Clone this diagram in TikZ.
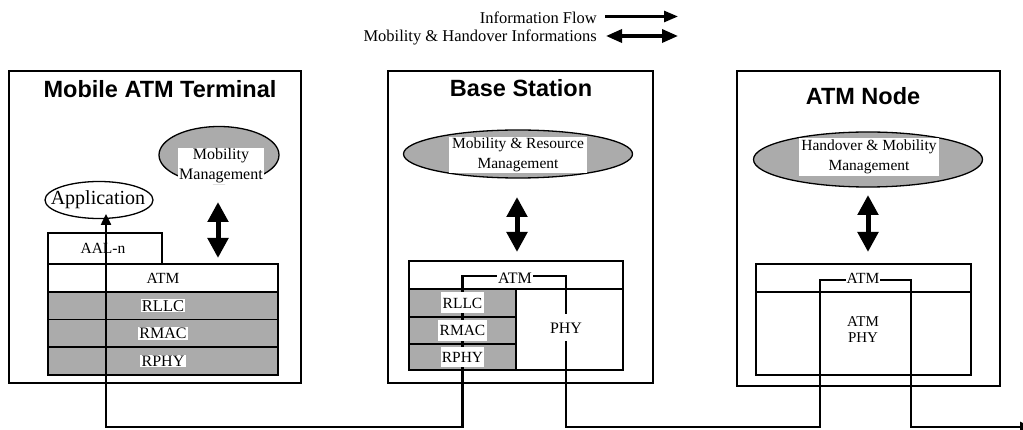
\documentclass[tikz,border=0pt]{standalone}
\usepackage{fontspec}
\setmainfont{Liberation Serif}
\newfontfamily\headfont{Liberation Sans}
\usetikzlibrary{shapes.geometric,arrows.meta}
\definecolor{shade}{gray}{0.67}
\newcommand\fsz[2]{\fontsize{#1}{#2}\selectfont}

\begin{document}
\begin{tikzpicture}[x=1pt,y=-1pt,
  frame/.style={draw, line width=1.4pt, anchor=north west, inner sep=0pt, outer sep=0pt},
  cell/.style={draw, line width=1.2pt, inner sep=0pt, outer sep=0pt},
  shaded/.style={cell, fill=shade},
  title/.style={font=\headfont\bfseries\fsz{23.5}{28}, anchor=base, inner sep=0pt},
  txt/.style={font=\fsz{15.5}{18}, inner sep=1.2pt},
  wtxt/.style={txt, fill=white},
  ctxt/.style={font=\fsz{15.5}{18}, inner sep=0pt},
  patch/.style={fill=white, inner sep=0pt},
  cloud/.style={draw, ellipse, line width=1.3pt, fill=shade, inner sep=0pt},
  flow/.style={line width=2.4pt, {Triangle[width=10pt,length=11pt]}-{Triangle[width=10pt,length=11pt]}},
  ctrl/.style={line width=5pt, {Triangle[width=20pt,length=20pt]}-{Triangle[width=20pt,length=20pt]}},
  legtxt/.style={font=\fsz{16.5}{19}, anchor=base east, inner sep=0pt},
]
\useasboundingbox (0,0) rectangle (1023,430);

% ---------- legend ----------
\node[legtxt] (lg1) at (597,24) {Information Flow};
\node[legtxt] (lg2) at (597,42) {Mobility \& Handover Informations};
\coordinate (la1) at (605,16.5);
\coordinate (lb1) at (678,16.5);
\coordinate (la2) at (606,36);
\coordinate (lb2) at (678,36);
\draw[line width=2.6pt, -{Triangle[width=11pt,length=14pt]}] (la1) -- (lb1);
\draw[line width=3.4pt, {Triangle[width=13pt,length=16pt]}-{Triangle[width=13pt,length=16pt]}] (la2) -- (lb2);

% ---------- Mobile ATM Terminal ----------
\node[frame, minimum width=292pt, minimum height=312pt] (term) at (9,71) {};
\node[title] (termT) at (160,98) {Mobile ATM Terminal};
\node[draw, ellipse, line width=1.3pt, minimum width=108pt, minimum height=37pt, inner sep=0pt] (app) at (99,200) {};
\node[cloud, minimum width=120pt, minimum height=57pt] (tmm) at (219,155) {};
\node[cell, minimum width=114pt, minimum height=31pt] (taal) at (105,248.5) {};
\node[cell, minimum width=230pt, minimum height=28pt] (tatm) at (163,278) {};
\node[shaded, minimum width=230pt, minimum height=27.5pt] (trllc) at (163,305.75) {};
\node[shaded, minimum width=230pt, minimum height=27.5pt] (trmac) at (163,333.25) {};
\node[shaded, minimum width=230pt, minimum height=28pt] (trphy) at (163,361) {};
\coordinate (tc1) at (218,202);
\coordinate (tc2) at (218,258);
\draw[ctrl] (tc1) -- (tc2);

% ---------- Base Station ----------
\node[frame, minimum width=265pt, minimum height=312pt] (base) at (388,71) {};
\node[title] (baseT) at (521,97) {Base Station};
\node[cloud, minimum width=229pt, minimum height=48pt] (bmm) at (518,154) {};
\node[cell, minimum width=214pt, minimum height=109pt] (bstack) at (516,315.5) {};
\node[cell, minimum width=214pt, minimum height=28pt] (batm) at (516,275) {};
\node[shaded, minimum width=107pt, minimum height=28pt] (brllc) at (462.5,303) {};
\node[shaded, minimum width=107pt, minimum height=27pt] (brmac) at (462.5,330.5) {};
\node[shaded, minimum width=107pt, minimum height=26pt] (brphy) at (462.5,357) {};
\node[cell, minimum width=107pt, minimum height=81pt] (bphy) at (569.5,329.5) {};
\coordinate (bc1) at (517,197);
\coordinate (bc2) at (517,252);
\draw[ctrl] (bc1) -- (bc2);

% ---------- ATM Node ----------
\node[frame, minimum width=263pt, minimum height=315pt] (node) at (737,71) {};
\node[title] (nodeT) at (863,105) {ATM Node};
\node[cloud, minimum width=229pt, minimum height=55pt] (nmm) at (868,159.5) {};
\node[cell, minimum width=215pt, minimum height=111pt] (nstack) at (863.5,319.5) {};
\node[cell, minimum width=215pt, minimum height=28pt] (natm) at (863.5,278) {};
\coordinate (nc1) at (868,195);
\coordinate (nc2) at (868,252);
\draw[ctrl] (nc1) -- (nc2);

% ---------- information flow path ----------
\coordinate (appIn) at (106,214);
\coordinate (flowEnd) at (1031,427);
\draw[flow] (appIn) -- (106,427) -- (brphy.center |- 0,427) -- (brphy.center |- 0,276)
  -- (566,276) -- (566,427) -- (820,427) -- (820,280) -- (911,280) -- (911,427) -- (flowEnd);

% ---------- labels ----------
\node[font=\fsz{20}{24}, anchor=base, inner sep=0pt] at (98,205) {Application};
\node[wtxt, font=\fsz{16}{20}, align=center] at (221,166) {Mobility\\Management};
\node[txt] at (103,248.5) {AAL-n};
\node[txt] at (tatm) {ATM};
\node[wtxt, font=\fsz{16.5}{19}] at (trllc) {RLLC};
\node[wtxt, font=\fsz{16}{19}] at (trmac) {RMAC};
\node[wtxt, font=\fsz{16}{19}] at (trphy) {RPHY};

\node[patch, minimum width=138pt, minimum height=36pt] (bpatch) at (518,155) {};
\node[ctxt] at (518,145) {Mobility \& Resource};
\node[ctxt] at (518,165) {Management};
\node[wtxt, font=\fsz{16}{19}] at (515,278) {ATM};
\node[wtxt, minimum height=21pt] at (brllc) {RLLC};
\node[wtxt, minimum height=21pt] at (brmac) {RMAC};
\node[wtxt, minimum height=20pt] at (brphy) {RPHY};
\node[wtxt, font=\fsz{16}{19}, minimum height=27pt] at (566,328) {PHY};

\node[patch, minimum width=140pt, minimum height=38pt] (npatch) at (869,157) {};
\node[ctxt] at (869,147) {Handover \& Mobility};
\node[ctxt] at (869,167) {Management};
\node[wtxt, inner sep=0.8pt] at (863,278) {ATM};
\node[txt, align=center, font=\fsz{15}{16}] at (863,330) {ATM\\PHY};
\end{tikzpicture}
\end{document}
